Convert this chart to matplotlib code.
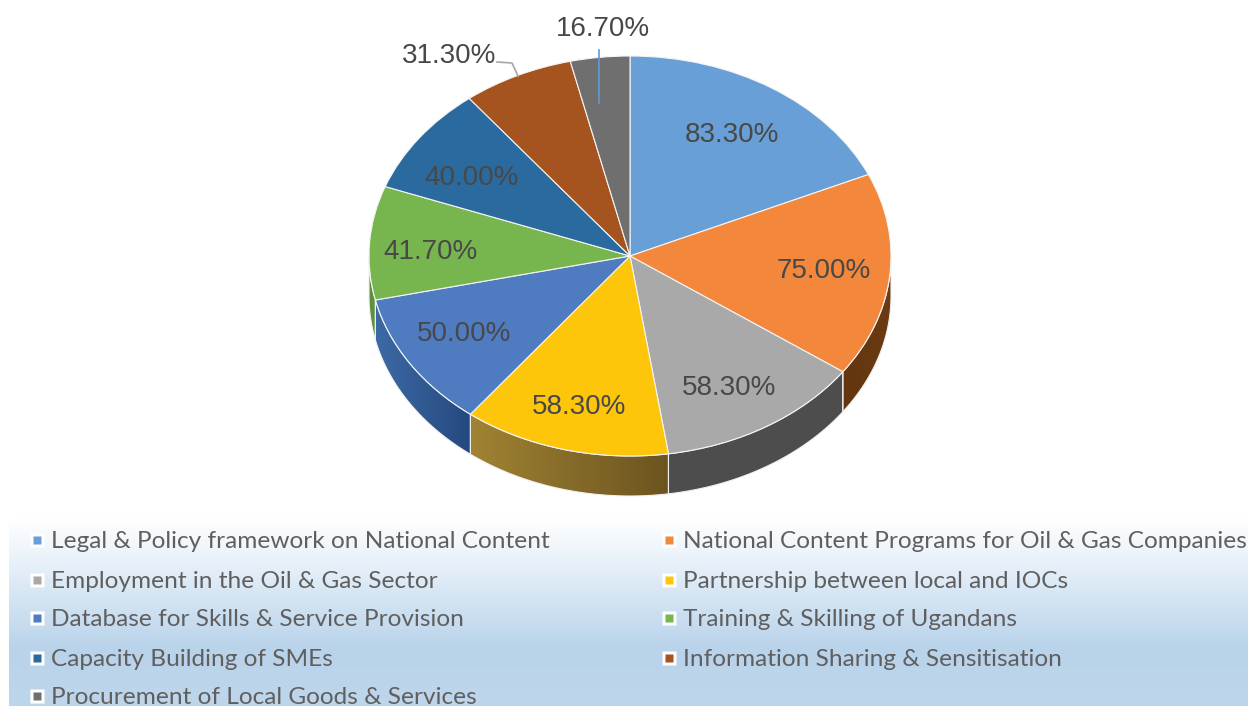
import numpy as np
import matplotlib
matplotlib.use("Agg")
import matplotlib.pyplot as plt
from matplotlib.colors import LinearSegmentedColormap, to_rgb
from matplotlib.patches import Polygon

# values and names
categories = ["Legal & Policy framework on National Content",
              "National Content Programs for Oil & Gas Companies",
              "Employment in the Oil & Gas Sector",
              "Partnership between local and IOCs",
              "Database for Skills & Service Provision",
              "Training & Skilling of Ugandans",
              "Capacity Building of SMEs",
              "Information Sharing & Sensitisation",
              "Procurement of Local Goods & Services"]
values = [83.3, 75.0, 58.3, 58.3, 50.0, 41.7, 40.0, 31.3, 16.7]
colors = ["#679fd6", "#f3873b", "#a9a9a9", "#fec60b", "#4f7cc0",
          "#77b54e", "#2a6a9f", "#a5531f", "#6f6f6f"]
# side of the disc: colour on the left and right of each slice
side_left = ["#3a6a9a", "#63360f", "#4d4d4d", "#a08333", "#3d6aa5",
             "#5f9140", "#1f4f78", "#7a3d15", "#505050"]
side_right = ["#3a6a9a", "#6b3b12", "#4d4d4d", "#6c5420", "#25497f",
              "#5f9140", "#1f4f78", "#7a3d15", "#505050"]
label_xy = [(732, 135), (824, 271), (729, 388), (579, 407), (464, 334),
            (431, 252), (472, 178), (449, 56), (603, 29)]

W, H = 1248, 706
cx, cy, rx, ry = 630, 256, 261, 200
depth = 40 / ry

fig = plt.figure(figsize=(W / 100, H / 100), dpi=100)

# pixel axes for background
bg = fig.add_axes([0, 0, 1, 1], zorder=0)
bg.set_xlim(0, W)
bg.set_ylim(H, 0)
bg.axis("off")
cm = LinearSegmentedColormap.from_list("bg", [(0, "#ffffff"), (0.25, "#e6f0f9"),
                                              (0.7, "#b9d3ea"), (1, "#bed6ec")])
bg.imshow(np.linspace(0, 1, 200).reshape(-1, 1), cmap=cm, aspect="auto",
          extent=(9, W, H, 518))
bg.set_xlim(0, W)
bg.set_ylim(H, 0)

# pie axes, unit circle squashed to an ellipse
ax = fig.add_axes([0, 0, 1, 1], zorder=1)
ax.patch.set_alpha(0)
wedges, _ = ax.pie(values, colors=colors, startangle=90, counterclock=False,
                   wedgeprops=dict(edgecolor="#f4f4f4", linewidth=0.8, zorder=5))

# side wall under the lower half
for w, c1, c2 in zip(wedges, side_left, side_right):
    t1, t2 = w.theta1 % 360, w.theta2 % 360
    if t2 <= t1:
        t2 += 360
    ts = np.radians(np.linspace(t1, t2, 100))
    ts = ts[np.sin(ts) <= 0]
    if len(ts) < 2:
        continue
    x, y = np.cos(ts), np.sin(ts)
    pts = np.vstack([np.c_[x, y], np.c_[x[::-1], y[::-1] - depth]])
    grad = LinearSegmentedColormap.from_list("g", [to_rgb(c1), to_rgb(c2)])
    im = ax.imshow(np.linspace(0, 1, 100).reshape(1, -1), cmap=grad, aspect="auto",
                   extent=(x.min(), x.max(), (y - depth).min(), y.max()), zorder=2)
    poly = Polygon(pts, closed=True, transform=ax.transData, facecolor="none",
                   edgecolor="#f0f0f0", linewidth=0.8, zorder=3)
    ax.add_patch(poly)
    im.set_clip_path(poly)

ax.set_aspect("auto")
ax.set_xlim(-cx / rx, (W - cx) / rx)
ax.set_ylim((cy - H) / ry, cy / ry)
ax.axis("off")

# overlay for labels and legend
top = fig.add_axes([0, 0, 1, 1], zorder=2)
top.patch.set_alpha(0)
top.set_xlim(0, W)
top.set_ylim(H, 0)
top.axis("off")

for v, (lx, ly) in zip(values, label_xy):
    top.text(lx, ly, f"{v:.2f}%", ha="center", va="center", color="#484848",
             fontsize=20, family="Liberation Sans")

top.plot([497, 512, 518], [62, 63, 76], color="#a6a6a6", lw=1.2)
top.plot([599, 599], [50, 103], color="#5b9bd5", lw=1.2)

# legend, two columns
col_x = [37, 669]
row_y = [542, 582, 620, 660, 698]
for i, (name, c) in enumerate(zip(categories, colors)):
    x0 = col_x[i % 2]
    y0 = row_y[i // 2]
    top.plot([x0], [y0 - 2], marker="s", ms=10, color="white", mec="none", clip_on=False)
    top.plot([x0], [y0 - 2], marker="s", ms=6.2, color=c, mec="none", clip_on=False)
    top.text(x0 + 14, y0, name, va="center", ha="left", color="#5f5f5f",
             fontsize=17.6, family="Lato")

fig.savefig("out.png", dpi=100)
